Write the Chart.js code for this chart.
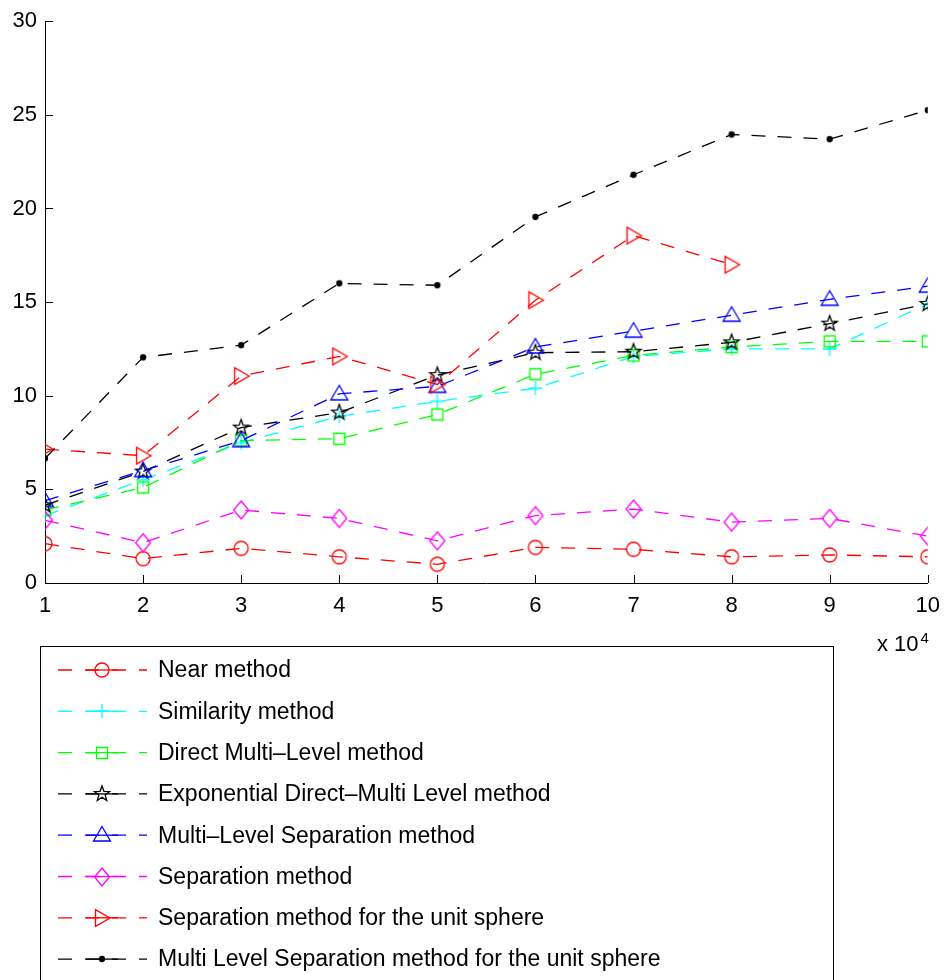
<!DOCTYPE html>
<html>
<head>
<meta charset="utf-8">
<script src="https://cdn.jsdelivr.net/npm/chart.js@4.4.1/dist/chart.umd.min.js"></script>
<style>
  body { margin: 0; background: #fff; }
  #wrap { width: 950px; height: 980px; }
</style>
</head>
<body>
<div id="wrap"><canvas id="chart" width="950" height="980"></canvas></div>
<script>
// x values (in units of 10^4)
const xTicks = [1, 2, 3, 4, 5, 6, 7, 8, 9, 10];

const nearMethod          = [2.1, 1.3, 1.85, 1.4, 1.0, 1.9, 1.8, 1.4, 1.5, 1.4];
const similarityMethod    = [3.6, 5.5, 7.5, 8.9, 9.7, 10.4, 12.1, 12.5, 12.5, 14.9];
const directMultiLevel    = [3.9, 5.1, 7.6, 7.7, 9.0, 11.15, 12.15, 12.6, 12.9, 12.9];
const expDirectMulti      = [4.15, 5.95, 8.3, 9.1, 11.1, 12.3, 12.35, 12.85, 13.85, 14.9];
const multiLevelSep       = [4.4, 6.0, 7.6, 10.1, 10.5, 12.6, 13.45, 14.3, 15.15, 15.85];
const separationMethod    = [3.35, 2.15, 3.9, 3.45, 2.25, 3.6, 3.95, 3.25, 3.45, 2.5];
const sepUnitSphere       = [7.15, 6.8, 11.05, 12.1, 10.6, 15.1, 18.55, 17.0, null, null];
const multiSepUnitSphere  = [6.65, 12.05, 12.7, 16.0, 15.9, 19.55, 21.8, 23.95, 23.7, 25.25];

const seriesNames = [
  'Near method',
  'Similarity method',
  'Direct Multi\u2013Level method',
  'Exponential Direct\u2013Multi Level method',
  'Multi\u2013Level Separation method',
  'Separation method',
  'Separation method for the unit sphere',
  'Multi Level Separation method for the unit sphere'
];

const FONT = '"Liberation Sans", Arial, Helvetica, sans-serif';

// marker images, drawn like matlab's open markers
function makeMarker(kind, color) {
  const c = document.createElement('canvas');
  c.width = 24; c.height = 24;
  const g = c.getContext('2d');
  g.translate(12, 12);
  g.strokeStyle = color;
  g.fillStyle = color;
  g.lineWidth = 1.3;
  g.beginPath();
  if (kind === 'circle') {
    g.arc(0, 0, 7, 0, Math.PI * 2);
  } else if (kind === 'plus') {
    g.moveTo(-7, 0); g.lineTo(7, 0);
    g.moveTo(0, -7); g.lineTo(0, 7);
  } else if (kind === 'square') {
    g.rect(-5.5, -5.5, 11, 11);
  } else if (kind === 'star') {
    for (let i = 0; i < 10; i++) {
      const r = i % 2 === 0 ? 8 : 3.3;
      const a = -Math.PI / 2 + i * Math.PI / 5;
      const px = Math.cos(a) * r, py = Math.sin(a) * r;
      if (i === 0) g.moveTo(px, py); else g.lineTo(px, py);
    }
    g.closePath();
  } else if (kind === 'triUp') {
    g.moveTo(0, -8.5); g.lineTo(8.5, 6); g.lineTo(-8.5, 6); g.closePath();
  } else if (kind === 'triRight') {
    g.moveTo(8, 0); g.lineTo(-6.5, -8.3); g.lineTo(-6.5, 8.3); g.closePath();
  } else if (kind === 'diamond') {
    g.moveTo(0, -9); g.lineTo(7.5, 0); g.lineTo(0, 9); g.lineTo(-7.5, 0); g.closePath();
  } else if (kind === 'dot') {
    g.arc(0, 0, 2.5, 0, Math.PI * 2);
    g.fill();
  }
  g.stroke();
  return c;
}

const colors  = ['#ff0000', '#00ffff', '#00ff00', '#000000', '#0000ff', '#ff00ff', '#ff0000', '#000000'];
const markers = ['circle', 'plus', 'square', 'star', 'triUp', 'diamond', 'triRight', 'dot'];
const allSeries = [nearMethod, similarityMethod, directMultiLevel, expDirectMulti,
                   multiLevelSep, separationMethod, sepUnitSphere, multiSepUnitSphere];

const datasets = allSeries.map((vals, i) => ({
  label: seriesNames[i],
  data: xTicks.map((x, k) => ({ x: x, y: vals[k] })),
  borderColor: colors[i],
  borderWidth: 1.3,
  borderDash: [14, 12],
  pointStyle: makeMarker(markers[i], colors[i]),
  pointRadius: 8,
  fill: false,
  tension: 0,
  spanGaps: false,
  order: allSeries.length - i
}));

// inward ticks, the "x 10^4" note and the boxed legend
const extras = {
  id: 'extras',
  afterDraw(chart) {
    const ctx = chart.ctx;
    const xs = chart.scales.x, ys = chart.scales.y;
    const area = chart.chartArea;
    ctx.save();
    ctx.strokeStyle = '#000';
    ctx.lineWidth = 1;
    ctx.setLineDash([]);
    ctx.beginPath();
    xTicks.forEach(v => {
      const px = Math.round(xs.getPixelForValue(v)) + 0.5;
      ctx.moveTo(px, area.bottom); ctx.lineTo(px, area.bottom - 8);
    });
    for (let v = 0; v <= 30; v += 5) {
      const py = Math.round(ys.getPixelForValue(v)) + 0.5;
      ctx.moveTo(area.left, py); ctx.lineTo(area.left + 8, py);
    }
    ctx.stroke();

    // exponent note
    ctx.fillStyle = '#000';
    ctx.textBaseline = 'alphabetic';
    ctx.font = '22px ' + FONT;
    ctx.fillText('x 10', 877, 651);
    const w = ctx.measureText('x 10').width;
    ctx.font = '15px ' + FONT;
    ctx.fillText('4', 877 + w + 2, 643);

    // legend box
    ctx.lineWidth = 1;
    ctx.strokeRect(40.5, 646.5, 793, 400);
    ctx.font = '23px ' + FONT;
    ctx.textBaseline = 'middle';
    chart.data.datasets.forEach((ds, i) => {
      const y = 670 + i * 41.3;
      ctx.strokeStyle = ds.borderColor;
      ctx.lineWidth = 1.3;
      ctx.setLineDash([14, 13]);
      ctx.beginPath();
      ctx.moveTo(58, y); ctx.lineTo(147, y);
      ctx.stroke();
      ctx.setLineDash([]);
      ctx.beginPath();
      ctx.moveTo(86, y); ctx.lineTo(118, y);
      ctx.stroke();
      ctx.drawImage(ds.pointStyle, 102 - 12, Math.round(y) - 12);
      ctx.fillStyle = '#000';
      ctx.fillText(ds.label, 158, y + 1);
    });
    ctx.restore();
  }
};

new Chart(document.getElementById('chart'), {
  type: 'line',
  data: { datasets: datasets },
  options: {
    responsive: false,
    animation: false,
    devicePixelRatio: 1,
    layout: { padding: { top: 17, right: 18, left: 0, bottom: 0 } },
    plugins: { legend: { display: false }, tooltip: { enabled: false } },
    scales: {
      x: {
        type: 'linear',
        min: 1, max: 10,
        grid: { display: false, drawTicks: false },
        border: { display: true, color: '#000', width: 1 },
        ticks: { stepSize: 1, color: '#000', padding: 10, font: { size: 22, family: FONT } },
        afterFit(scale) { scale.height = 397; }
      },
      y: {
        min: 0, max: 30,
        grid: { display: false, drawTicks: false },
        border: { display: true, color: '#000', width: 1 },
        ticks: { stepSize: 5, color: '#000', padding: 8, font: { size: 22, family: FONT } },
        afterFit(scale) { scale.width = 45; }
      }
    }
  },
  plugins: [extras]
});
</script>
</body>
</html>
